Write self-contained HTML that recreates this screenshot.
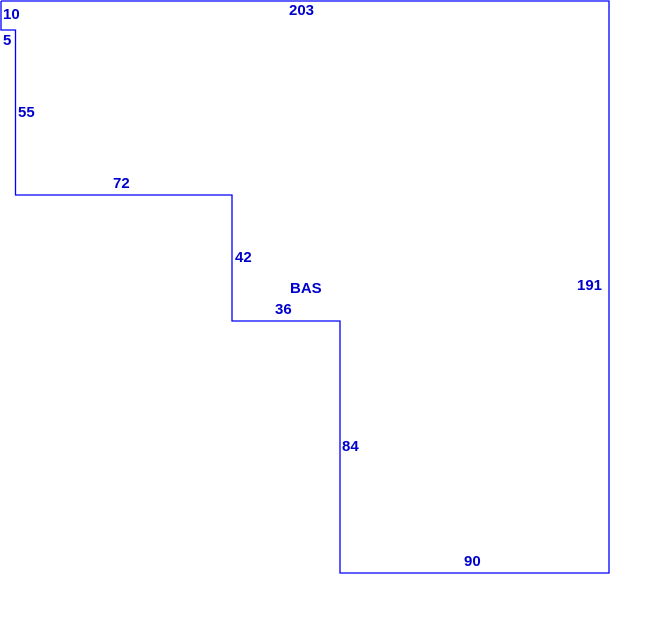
<!DOCTYPE html>
<html><head><meta charset="utf-8"><style>
html,body{margin:0;padding:0;background:#fff;width:659px;height:623px;overflow:hidden}
svg text{font-family:"Liberation Sans",sans-serif;font-weight:bold;font-size:15px;fill:#0000cc}
</style></head><body>
<svg width="659" height="623" xmlns="http://www.w3.org/2000/svg">
<polyline points="1,1 609,1 609,573 340,573 340,321 232,321 232,195 15.5,195 15.5,30 1,30 1,1" fill="none" stroke="#0000ff" stroke-width="1.3"/>
<text x="3" y="19">10</text>
<text x="3" y="45">5</text>
<text x="289" y="15">203</text>
<text x="18" y="117">55</text>
<text x="113" y="188">72</text>
<text x="235" y="262">42</text>
<text x="290" y="293">BAS</text>
<text x="275" y="314">36</text>
<text x="577" y="290">191</text>
<text x="342" y="451">84</text>
<text x="464" y="566">90</text>
</svg>
</body></html>
